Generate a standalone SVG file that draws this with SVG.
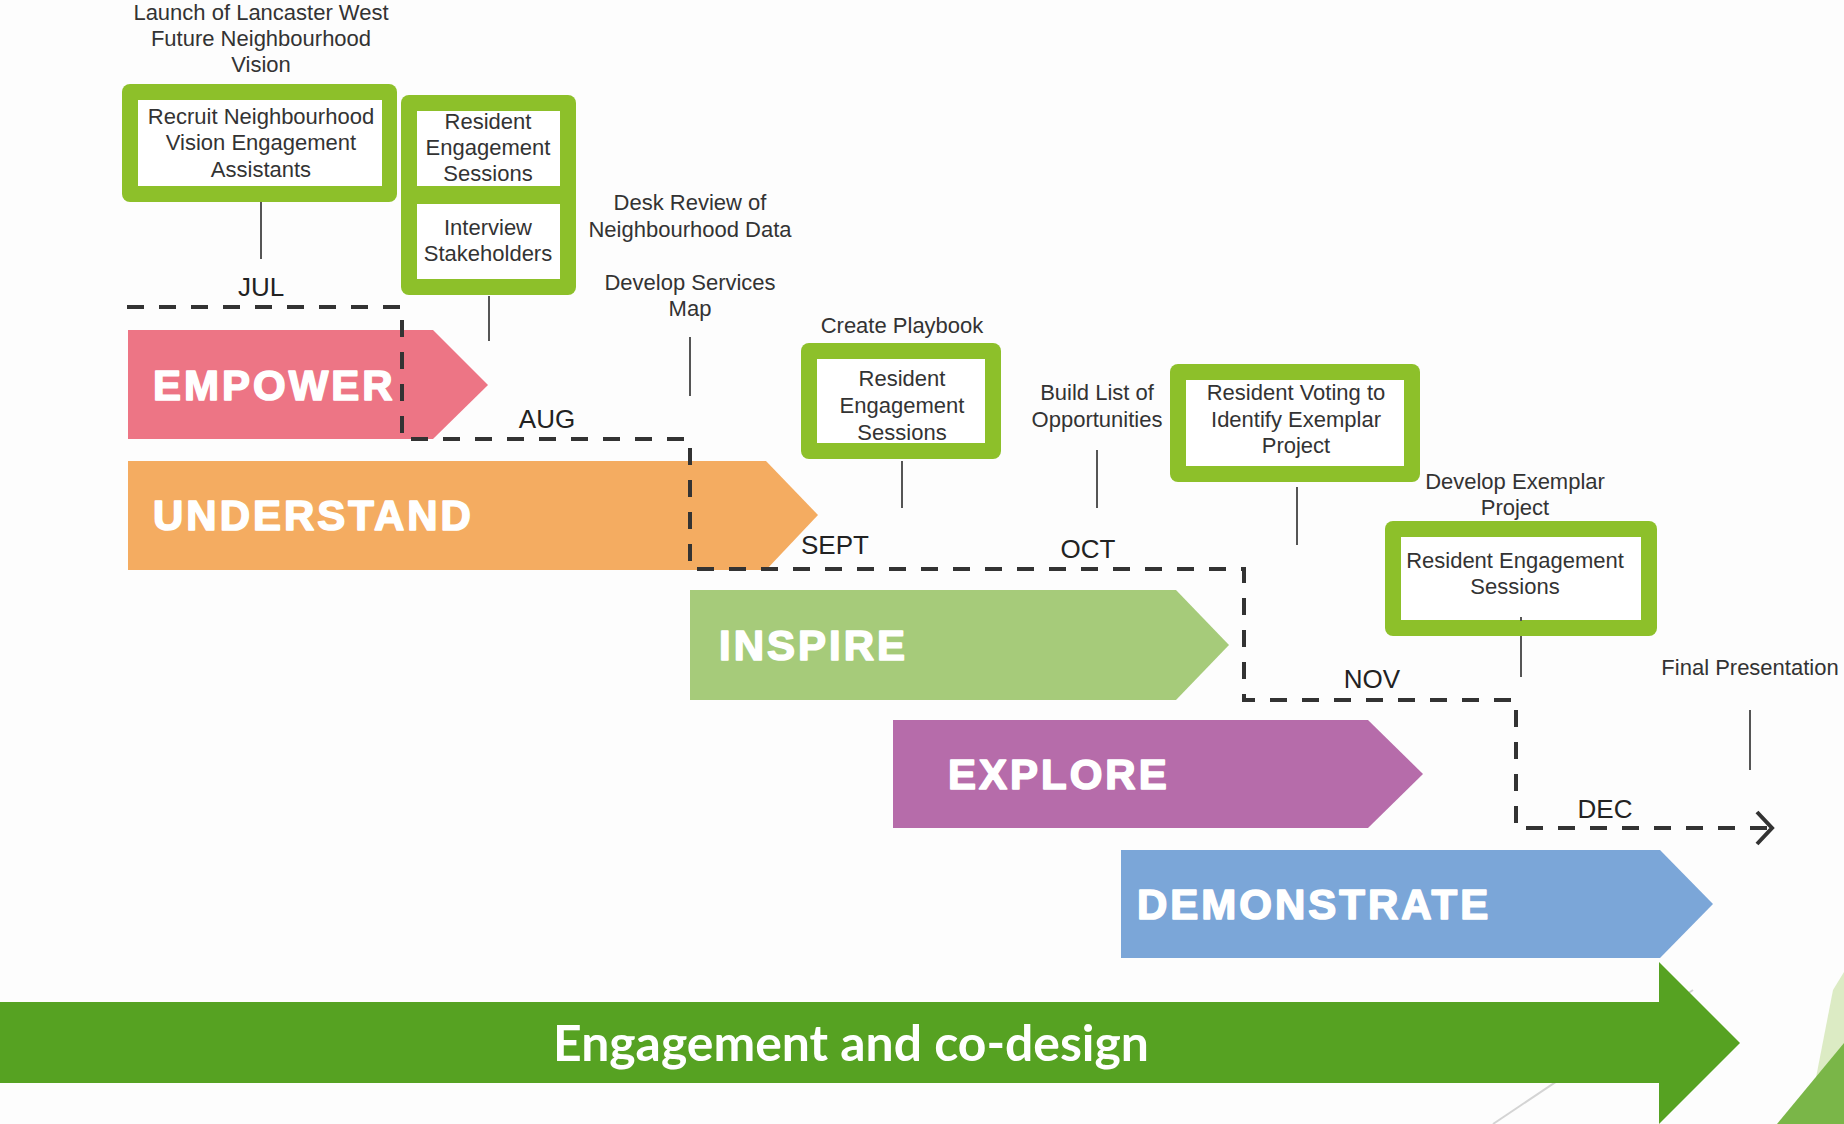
<svg xmlns="http://www.w3.org/2000/svg" width="1844" height="1124" viewBox="0 0 1844 1124">
<style>
.lbl{font-family:"Liberation Sans",Arial,sans-serif;font-size:22px;fill:#333;text-anchor:middle}
.mon{font-family:"Liberation Sans",Arial,sans-serif;font-size:26px;fill:#222;text-anchor:middle}
.big{font-family:"Liberation Sans",Arial,sans-serif;font-size:42px;font-weight:bold;fill:#fff;letter-spacing:3px;stroke:#fff;stroke-width:1.6;stroke-linejoin:round}
.gb{fill:#8DC02A}
.wb{fill:#fff}
.tick{stroke:#555;stroke-width:2;fill:none}
.dash{stroke:#333;stroke-width:4;fill:none;stroke-dasharray:17 15}
</style>
<rect width="1844" height="1124" fill="#fdfdfd"/>
<g id="decor">
<line x1="1493" y1="1124" x2="1693" y2="990" stroke="#d4d4d4" stroke-width="2"/>
<polygon points="1833,990 1844,972 1844,1124 1807,1124" fill="#dcebc4"/>
<polygon points="1844,1043 1844,1124 1777,1124" fill="#7ab648"/>
</g>
<g id="phase-empower">
<polygon points="128,330 433,330 488,385 433,439 128,439" fill="#ED7585"/>
<text class="big" x="153" y="400">EMPOWER</text>
</g>
<g id="phase-understand">
<polygon points="128,461 766,461 818,515 766,570 128,570" fill="#F4AC61"/>
<text class="big" x="153" y="530">UNDERSTAND</text>
</g>
<g id="phase-inspire">
<polygon points="690,590 1176,590 1229,645 1176,700 690,700" fill="#A6CB7A"/>
<text class="big" x="719" y="660">INSPIRE</text>
</g>
<g id="phase-explore">
<polygon points="893,720 1368,720 1423,774 1368,828 893,828" fill="#B66CAA"/>
<text class="big" x="948" y="789">EXPLORE</text>
</g>
<g id="phase-demonstrate">
<polygon points="1121,850 1660,850 1713,904 1660,958 1121,958" fill="#7BA6D8"/>
<text class="big" x="1137" y="919">DEMONSTRATE</text>
</g>
<g id="connectors">
<line class="tick" x1="261" y1="202" x2="261" y2="259"/>
<line class="tick" x1="489" y1="296" x2="489" y2="341"/>
<line class="tick" x1="690" y1="337" x2="690" y2="396"/>
<line class="tick" x1="902" y1="461" x2="902" y2="508"/>
<line class="tick" x1="1097" y1="450" x2="1097" y2="508"/>
<line class="tick" x1="1297" y1="487" x2="1297" y2="545"/>
<line class="tick" x1="1521" y1="636" x2="1521" y2="677"/>
<line class="tick" x1="1750" y1="710" x2="1750" y2="770"/>
<path class="dash" d="M127,307 H402 V439 H690 V569 H1244 V700 H1516 V828 H1768"/>
<polyline points="1757,812 1772,828 1757,844" fill="none" stroke="#333" stroke-width="4"/>
</g>
<g id="months">
<text class="mon" x="261" y="296">JUL</text>
<text class="mon" x="547" y="428">AUG</text>
<text class="mon" x="835" y="554">SEPT</text>
<text class="mon" x="1088" y="558">OCT</text>
<text class="mon" x="1372" y="688">NOV</text>
<text class="mon" x="1605" y="818">DEC</text>
</g>
<g id="launch">
<text class="lbl" x="261" y="20">Launch of Lancaster West</text>
<text class="lbl" x="261" y="46">Future Neighbourhood</text>
<text class="lbl" x="261" y="72">Vision</text>
</g>
<g id="box-recruit">
<rect class="gb" x="122" y="84" width="275" height="118" rx="8"/>
<rect class="wb" x="138" y="100" width="244" height="86"/>
<text class="lbl" x="261" y="124">Recruit Neighbourhood</text>
<text class="lbl" x="261" y="150">Vision Engagement</text>
<text class="lbl" x="261" y="177">Assistants</text>
</g>
<g id="box-aug">
<rect class="gb" x="401" y="95" width="175" height="200" rx="8"/>
<rect class="wb" x="417" y="111" width="143" height="75"/>
<rect class="wb" x="417" y="204" width="143" height="75"/>
<text class="lbl" x="488" y="129">Resident</text>
<text class="lbl" x="488" y="155">Engagement</text>
<text class="lbl" x="488" y="181">Sessions</text>
<text class="lbl" x="488" y="235">Interview</text>
<text class="lbl" x="488" y="261">Stakeholders</text>
</g>
<g id="desk-review">
<text class="lbl" x="690" y="210">Desk Review of</text>
<text class="lbl" x="690" y="237">Neighbourhood Data</text>
</g>
<g id="services-map">
<text class="lbl" x="690" y="290">Develop Services</text>
<text class="lbl" x="690" y="316">Map</text>
</g>
<g id="playbook">
<text class="lbl" x="902" y="333">Create Playbook</text>
</g>
<g id="box-sept">
<rect class="gb" x="801" y="343" width="200" height="116" rx="8"/>
<rect class="wb" x="817" y="359" width="168" height="84"/>
<text class="lbl" x="902" y="386">Resident</text>
<text class="lbl" x="902" y="413">Engagement</text>
<text class="lbl" x="902" y="440">Sessions</text>
</g>
<g id="build-list">
<text class="lbl" x="1097" y="400">Build List of</text>
<text class="lbl" x="1097" y="427">Opportunities</text>
</g>
<g id="box-voting">
<rect class="gb" x="1170" y="364" width="250" height="118" rx="8"/>
<rect class="wb" x="1186" y="380" width="218" height="86"/>
<text class="lbl" x="1296" y="400">Resident Voting to</text>
<text class="lbl" x="1296" y="427">Identify Exemplar</text>
<text class="lbl" x="1296" y="453">Project</text>
</g>
<g id="develop-exemplar">
<text class="lbl" x="1515" y="489">Develop Exemplar</text>
<text class="lbl" x="1515" y="515">Project</text>
</g>
<g id="box-nov">
<rect class="gb" x="1385" y="521" width="272" height="115" rx="8"/>
<rect class="wb" x="1401" y="537" width="240" height="83"/>
<line class="tick" x1="1521" y1="617" x2="1521" y2="621"/>
<text class="lbl" x="1515" y="568">Resident Engagement</text>
<text class="lbl" x="1515" y="594">Sessions</text>
</g>
<g id="final">
<text class="lbl" x="1750" y="675">Final Presentation</text>
</g>
<g id="engagement-arrow">
<polygon points="0,1002 1659,1002 1659,962 1740,1043 1659,1124 1659,1083 0,1083" fill="#56A222"/>
<text x="851" y="1061" text-anchor="middle" font-family="Lato,'Liberation Sans',sans-serif" font-weight="bold" font-size="50" fill="#fff" textLength="596" lengthAdjust="spacingAndGlyphs">Engagement and co-design</text>
</g>
</svg>
